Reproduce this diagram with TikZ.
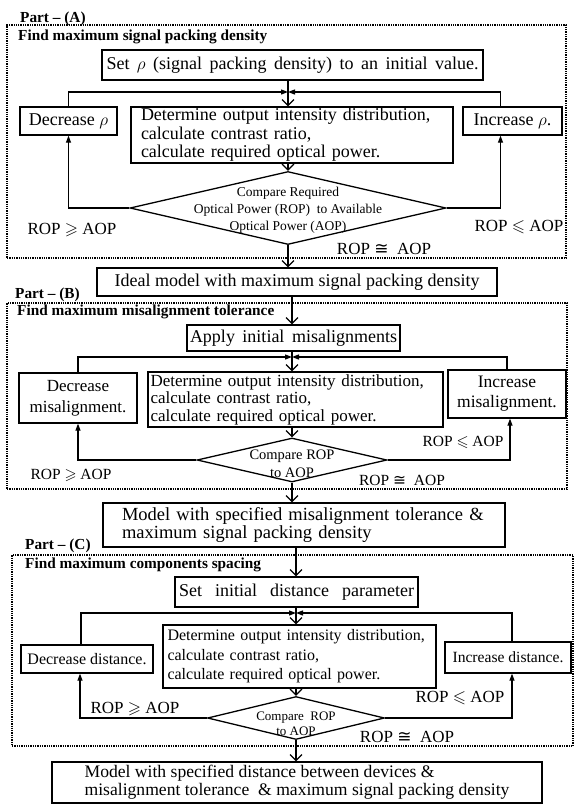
\documentclass[tikz,border=0pt]{standalone}
\usepackage{fontspec}
\setmainfont{Liberation Serif}
\newfontfamily\symfont{DejaVu Sans}
\usepackage{amssymb}
\usetikzlibrary{shapes, fit, calc, arrows.meta}
\newcommand{\spreadto}[2]{\makebox[#1][s]{#2}}
\newcommand{\fsz}[2]{\fontsize{#1}{#2}\selectfont}
\newcommand{\ropcong}{{\symfont ≅}}

\begin{document}
\begin{tikzpicture}[x=1pt, y=-1pt, font=\fsz{18}{18.5}]
			\tikzstyle{stepbox}=[
			draw,
			rectangle,
			line width=1.3pt,
			inner sep=1pt,
			text centered
			]
			\tikzstyle{textbox}=[stepbox, align=left]
			\tikzstyle{decision}=[draw, diamond, line width=1.3pt, inner sep=0pt]
			\tikzstyle{cmptext}=[align=center, inner sep=0pt]
			\tikzstyle{partbox}=[draw, densely dotted, line width=1.3pt, inner sep=0pt]
			\tikzstyle{heading}=[anchor=west, inner sep=0pt, font=\fsz{15.3}{17}\bfseries]
			\tikzstyle{partlabel}=[anchor=base west, inner sep=0pt, font=\fsz{15.3}{17}\bfseries]
			\tikzstyle{ropnode}=[inner sep=0pt, font=\fsz{17}{18}]
			\tikzstyle{flow}=[line width=1.2pt, -{Straight Barb[length=6pt, width=12pt]}]
			\tikzstyle{back}=[line width=1.2pt, -{Triangle[length=7pt, width=5pt]}]
			\useasboundingbox (0,0) rectangle (574,804);
			% Part (A)
			\node[partlabel] (partAlabel) at (20,22) {Part – (A)};
			\node[partbox, fit={(7,25) (566,258)}] (partA) {};
			\node[heading] (findA) at (18,37) {Find maximum signal packing density};
			\node[stepbox, minimum width=381pt, minimum height=30pt] (setA) at (292.5,65) {\spreadto{372pt}{Set $\rho$ (signal packing density) to an initial value.}};
			\node[textbox, text width=302pt, inner xsep=10pt, minimum height=56pt] (detA) at (292,135) {Determine output intensity distribution,\\calculate contrast ratio,\\calculate required optical power.};
			\node[stepbox, minimum width=97pt, minimum height=28pt] (decA) at (68.5,121) {Decrease $\rho$};
			\node[stepbox, minimum width=99pt, minimum height=28pt] (incA) at (512.5,121) {Increase $\rho$.};
			\node[decision, minimum width=316pt, minimum height=73pt] (cmpA) at (288,208) {};
			\node[cmptext, font=\fsz{13.5}{17}] (cmpAtext) at (288,210) {Compare Required\\Optical Power (ROP)\ \ to Available\\Optical Power (AOP)};
			\node[ropnode] (geA) at (72,230) {ROP $\geqslant$ AOP};
			\node[ropnode] (leA) at (519,227) {ROP $\leqslant$ AOP};
			\node[ropnode] (eqA) at (384,249) {ROP \ropcong\ \ AOP};
			\node[stepbox, minimum width=400pt, minimum height=28pt] (idealA) at (297,282) {Ideal model with maximum signal packing density};
			\coordinate (jA) at (288,92);
			\draw[flow] (jA |- setA.south) -- (jA |- detA.north);
			\draw[back] (decA.north) |- (jA);
			\draw[back] ([xshift=-12pt]incA.north) |- (jA);
			\draw[flow] (jA |- detA.south) -- (cmpA.north);
			\draw[back] (cmpA.west) -| (decA.south);
			\draw[back] (cmpA.east) -| ([xshift=-12pt]incA.south);
			\draw[flow] (cmpA.south) -- (cmpA.south |- idealA.north);
			% Part (B)
			\node[partlabel] (partBlabel) at (15,298) {Part – (B)};
			\node[partbox, fit={(7,303) (567,489)}] (partB) {};
			\node[heading] (findB) at (17,312) {Find maximum misalignment tolerance};
			\node[stepbox, minimum width=213pt, minimum height=26pt] (applyB) at (293.5,338) {\spreadto{207pt}{Apply initial misalignments}};
			\node[textbox, font=\fsz{17}{17.5}, text width=290pt, inner xsep=2.5pt, minimum height=55pt] (detB) at (295.5,399.5) {\spreadto{290pt}{Determine output intensity distribution,}\\calculate contrast ratio,\\calculate required optical power.};
			\node[stepbox, align=center, font=\fsz{17}{21}, minimum width=118pt, minimum height=50pt] (decB) at (78,398) {Decrease\\misalignment.};
			\node[stepbox, align=center, font=\fsz{17.5}{20}, minimum width=118pt, minimum height=48pt] (incB) at (507,394) {Increase\\misalignment.};
			\node[decision, minimum width=190pt, minimum height=44pt] (cmpB) at (292,460) {};
			\node[cmptext, font=\fsz{14.5}{18}] (cmpBtext) at (292,464) {Compare ROP\\to AOP};
			\node[ropnode, font=\fsz{15.5}{17}] (geB) at (71,475) {ROP $\geqslant$ AOP};
			\node[ropnode, font=\fsz{15.5}{17}] (leB) at (463,442) {ROP $\leqslant$ AOP};
			\node[ropnode, font=\fsz{15.5}{17}] (eqB) at (402,480) {ROP \ropcong\ \ AOP};
			\node[textbox, font=\fsz{18.5}{18.5}, text width=364pt, inner xsep=19pt, minimum height=44pt] (modelB) at (304,525) {Model with specified misalignment tolerance \&\\maximum signal packing density};
			\coordinate (jB) at (292,357);
			\draw[flow] (idealA.south -| jB) -- (jB |- applyB.north);
			\draw[flow] (jB |- applyB.south) -- (jB |- detB.north);
			\draw[back] (decB.north) |- (jB);
			\draw[back] (incB.north) |- (jB);
			\draw[flow] (jB |- detB.south) -- (cmpB.north);
			\draw[back] (cmpB.west) -| (decB.south);
			\draw[back] (cmpB.east) -| ([xshift=3pt]incB.south);
			\draw[flow] (cmpB.south) -- (cmpB.south |- modelB.north);
			% Part (C)
			\node[partlabel] (partClabel) at (25,549) {Part – (C)};
			\node[partbox, fit={(12,555) (573,746)}] (partC) {};
			\node[heading] (findC) at (25,565) {Find maximum components spacing};
			\node[stepbox, minimum width=243pt, minimum height=30pt] (setC) at (296.5,592) {\spreadto{235pt}{Set initial distance parameter}};
			\node[textbox, font=\fsz{16}{19.5}, text width=264pt, inner xsep=4.5pt, minimum height=63pt] (detC) at (299.5,656.5) {\spreadto{264pt}{Determine output intensity distribution,}\\calculate contrast ratio,\\calculate required optical power.};
			\node[stepbox, font=\fsz{16}{18}, minimum width=132pt, minimum height=28pt] (decC) at (87,659) {Decrease distance.};
			\node[stepbox, font=\fsz{15.6}{18}, minimum width=126pt, minimum height=31pt] (incC) at (508,657.5) {Increase distance.};
			\node[decision, minimum width=177pt, minimum height=43pt] (cmpC) at (296,718) {};
			\node[cmptext, font=\fsz{13}{15}] (cmpCtext) at (296,724) {Compare\ \ ROP\\to AOP};
			\node[ropnode] (geC) at (135,709) {ROP $\geqslant$ AOP};
			\node[ropnode] (leC) at (460,698) {ROP $\leqslant$ AOP};
			\node[ropnode] (eqC) at (407,737) {ROP \ropcong\ \ AOP};
			\node[textbox, font=\fsz{17.6}{18}, inner xsep=4pt, minimum width=490pt, minimum height=41pt] (modelC) at (297,782.5) {Model with specified distance between devices \&\\misalignment tolerance \ \& maximum signal packing density};
			\coordinate (jC) at (296,613);
			\draw[flow] (modelB.south -| jC) -- (jC |- setC.north);
			\draw[flow] (jC |- setC.south) -- (jC |- detC.north);
			\draw[back] ([xshift=-6pt]decC.north) |- (jC);
			\draw[back] ([xshift=4pt]incC.north) |- (jC);
			\draw[flow] (jC |- detC.south) -- (cmpC.north);
			\draw[back] (cmpC.west) -| ([xshift=-7pt]decC.south);
			\draw[back] (cmpC.east) -| ([xshift=4pt]incC.south);
			\draw[flow] (cmpC.south) -- (cmpC.south |- modelC.north);
			%\node[draw=red, fit=(partA)] {};
		\end{tikzpicture}
\end{document}
